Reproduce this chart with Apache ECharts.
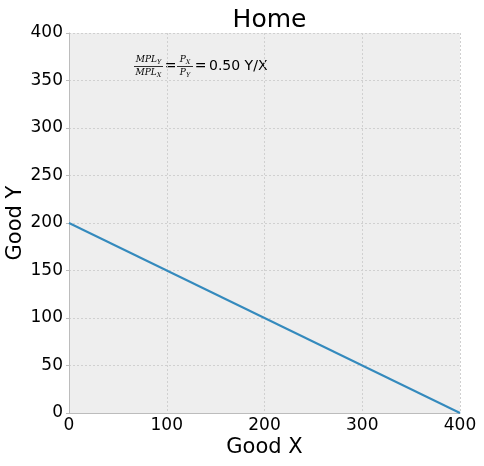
<!DOCTYPE html>
<html>
<head>
<meta charset="utf-8">
<script src="https://cdn.jsdelivr.net/npm/echarts@6/dist/echarts.min.js"></script>
<style>
html,body{margin:0;padding:0;background:#fff;}
#c{width:484px;height:466px;}
</style>
</head>
<body>
<div id="c"></div>
<script>
var titleText = 'Home';
var xName = 'Good X';
var yName = 'Good Y';
var goodX = [0, 400];
var goodY = [200, 0];
var xTicks = [0, 100, 200, 300, 400];
var yTicks = [0, 50, 100, 150, 200, 250, 300, 350, 400];
var ratioText = '0.50 Y/X';

var FONT = 'DejaVu Sans';
var MATH = 'DejaVu Serif';
var chart = echarts.init(document.getElementById('c'), null, {renderer: 'canvas'});

var pts = goodX.map(function (x, i) { return [x, goodY[i]]; });

var sub = {
  m: {fontFamily: MATH, fontStyle: 'italic', fontSize: 9, color: '#000', verticalAlign: 'bottom', lineHeight: 10},
  s: {fontFamily: MATH, fontStyle: 'italic', fontSize: 6.5, color: '#000', verticalAlign: 'bottom', lineHeight: 10, padding: [0, 0, -2, 0]}
};

function frac(cx, num, den, w) {
  return [
    {type: 'text', x: cx, y: 64, style: {text: num, rich: sub, align: 'center', verticalAlign: 'bottom'}},
    {type: 'rect', shape: {x: cx - w / 2, y: 66, width: w, height: 0.8}, style: {fill: '#000'}},
    {type: 'text', x: cx, y: 77, style: {text: den, rich: sub, align: 'center', verticalAlign: 'bottom'}}
  ];
}

var graphics = []
  .concat(frac(148.5, '{m|MPL}{s|Y}', '{m|MPL}{s|X}', 29))
  .concat([{type: 'text', x: 170.5, y: 66.5, style: {text: '=', font: '14px ' + MATH, fill: '#000', align: 'center', verticalAlign: 'middle'}}])
  .concat(frac(185, '{m|P}{s|X}', '{m|P}{s|Y}', 16))
  .concat([{type: 'text', x: 200.5, y: 66.5, style: {text: '=', font: '14px ' + MATH, fill: '#000', align: 'center', verticalAlign: 'middle'}}])
  .concat([{type: 'text', x: 209, y: 66.5, style: {text: ratioText, font: '14px ' + FONT, fill: '#000', align: 'left', verticalAlign: 'middle'}}]);

chart.setOption({
  animation: false,
  backgroundColor: '#ffffff',
  title: {
    text: titleText,
    left: 264.5,
    top: 3,
    textAlign: 'center',
    textStyle: {fontFamily: FONT, fontSize: 25, fontWeight: 'normal', color: '#000'}
  },
  grid: {
    left: 69, right: 24, top: 33, bottom: 53,
    containLabel: false, outerBoundsMode: 'none',
    show: true, backgroundColor: '#eeeeee', borderWidth: 0
  },
  xAxis: {
    type: 'value', min: xTicks[0], max: xTicks[xTicks.length - 1], interval: 100,
    name: xName, nameLocation: 'middle', nameGap: 24, nameMoveOverlap: false,
    nameTextStyle: {fontFamily: FONT, fontSize: 21, color: '#000'},
    axisLine: {show: true, lineStyle: {color: '#bcbcbc', width: 1}},
    axisTick: {show: false},
    axisLabel: {fontFamily: FONT, fontSize: 17, color: '#000', margin: 4},
    splitLine: {show: true, lineStyle: {color: '#d0d0d0', width: 1, type: [2, 2]}}
  },
  yAxis: {
    type: 'value', min: yTicks[0], max: yTicks[yTicks.length - 1], interval: 50,
    name: yName, nameLocation: 'middle', nameGap: 43, nameMoveOverlap: false,
    nameTextStyle: {fontFamily: FONT, fontSize: 21, color: '#000'},
    axisLine: {show: true, lineStyle: {color: '#bcbcbc', width: 1}},
    axisTick: {show: true, length: 3, lineStyle: {color: '#bcbcbc'}},
    axisLabel: {fontFamily: FONT, fontSize: 17, color: '#000', margin: 6},
    splitLine: {show: true, lineStyle: {color: '#d0d0d0', width: 1, type: [2, 2]}}
  },
  series: [{
    type: 'line', data: pts, showSymbol: false, symbol: 'none',
    lineStyle: {color: '#348abd', width: 2}, clip: false
  }],
  graphic: graphics
});
</script>
</body>
</html>
